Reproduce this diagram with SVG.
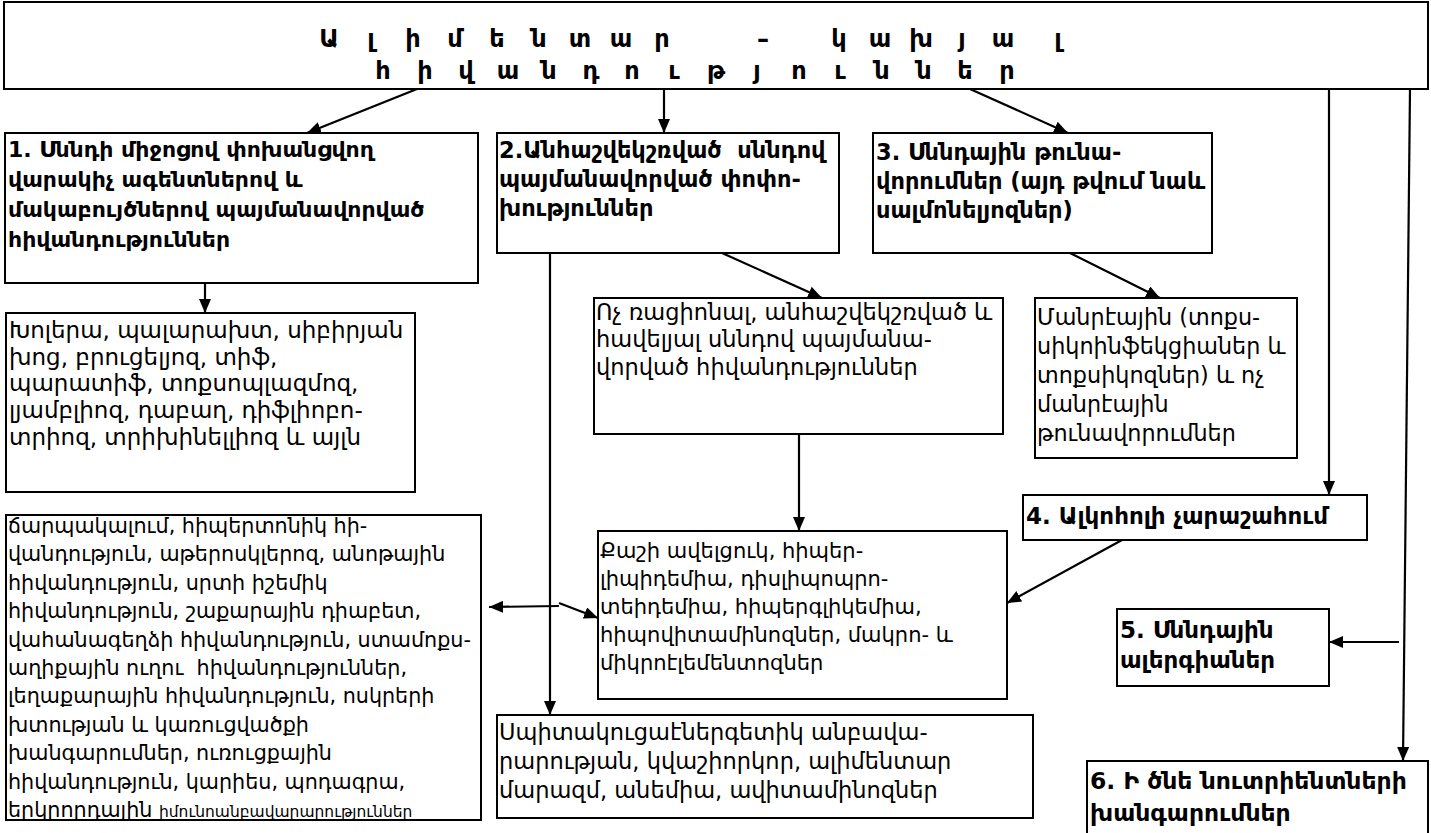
<svg xmlns="http://www.w3.org/2000/svg" width="1431" height="833" viewBox="0 0 1431 833">
<style>
.bx{fill:#fff;stroke:#000;stroke-width:2}
.t{font-family:"DejaVu Sans","Noto Sans",sans-serif;font-size:22.5px;fill:#000;white-space:pre}
.b{font-weight:bold;font-size:23px}
.s21{font-size:21px}
.ttl{font-family:"DejaVu Sans","Noto Sans",sans-serif;font-size:24px;font-weight:bold;fill:#000;text-anchor:middle}
.cn{stroke:#000;stroke-width:2.2;fill:none;marker-end:url(#ah)}
</style>
<defs>
<marker id="ah" viewBox="0 0 14 12" refX="14" refY="6" markerWidth="14" markerHeight="12" markerUnits="userSpaceOnUse" orient="auto">
<path d="M0,0 L14,6 L0,12 Z" fill="#000"/>
</marker>
</defs>
<rect width="1431" height="833" fill="#fff"/>
<g id="title">
<rect class="bx" x="4" y="2" width="1424" height="87"/>
<text class="ttl" y="47" x="329 350 371 392 413 434 455 476 497 518 539 559 580 600 621 641 662 712 763 801 839 860 880 900 921 941 962 982 1003 1030 1058">Ա լ ի մ ե ն տ ա ր – կ ա խ յ ա լ</text>
<text class="ttl" y="79" x="383 404 425 445 466 487 508 528 549 570 591 611 632 653 674 695 716 737 757 778 799 820 840 861 882 903 924 944 965 986 1007">հ ի վ ա ն դ ո ւ թ յ ո ւ ն ն ե ր</text>
</g>
<g id="connectors">
<line class="cn" x1="417" y1="89" x2="307" y2="133"/>
<line class="cn" x1="664" y1="89" x2="664" y2="133"/>
<line class="cn" x1="970" y1="89" x2="1068" y2="133"/>
<line class="cn" x1="1329" y1="89" x2="1329" y2="495"/>
<line class="cn" x1="1410" y1="89" x2="1403" y2="761"/>
<line class="cn" x1="205" y1="283" x2="205" y2="313"/>
<line class="cn" x1="722" y1="253" x2="822" y2="298"/>
<line class="cn" x1="550" y1="253" x2="550" y2="715"/>
<line class="cn" x1="1070" y1="253" x2="1160" y2="298"/>
<line class="cn" x1="799" y1="434" x2="799" y2="531"/>
<line class="cn" x1="1122" y1="540" x2="1007" y2="603"/>
<line class="cn" x1="1399" y1="642" x2="1329" y2="642"/>
<line class="cn" x1="559" y1="606" x2="489" y2="607"/>
<line class="cn" x1="559" y1="603" x2="598" y2="618"/>
</g>
<g id="n1">
<rect class="bx" x="5" y="133" width="473" height="150"/>
<text class="t b" style="font-size:22px"><tspan x="8" y="157">1. Սննդի միջոցով փոխանցվող</tspan><tspan x="8" y="187">վարակիչ ագենտներով և</tspan><tspan x="8" y="217">մակաբույծներով պայմանավորված</tspan><tspan x="8" y="247">հիվանդություններ</tspan></text>
</g>
<g id="n2">
<rect class="bx" x="497" y="133" width="342" height="120"/>
<text class="t b" style="font-size:22.5px"><tspan x="499" y="158">2.Անհաշվեկշռված  սննդով</tspan><tspan x="499" y="187">պայմանավորված փոփո-</tspan><tspan x="499" y="216">խություններ</tspan></text>
</g>
<g id="n3">
<rect class="bx" x="873" y="133" width="339" height="120"/>
<text class="t b" style="font-size:22.5px"><tspan x="876" y="160">3. Սննդային թունա-</tspan><tspan x="876" y="189">վորումներ (այդ թվում նաև</tspan><tspan x="876" y="218">սալմոնելյոզներ)</tspan></text>
</g>
<g id="n1a">
<rect class="bx" x="6" y="313" width="409" height="179"/>
<text class="t" style="font-size:23px"><tspan x="9" y="338">Խոլերա, պալարախտ, սիբիրյան</tspan><tspan x="9" y="365">խոց, բրուցելյոզ, տիֆ,</tspan><tspan x="9" y="391">պարատիֆ, տոքսոպլազմոզ,</tspan><tspan x="9" y="418">լյամբլիոզ, դաբաղ, դիֆլիոբո-</tspan><tspan x="9" y="445">տրիոզ, տրիխինելլիոզ և այլն</tspan></text>
</g>
<g id="n2a">
<rect class="bx" x="594" y="298" width="409" height="136"/>
<text class="t"><tspan x="596" y="320">Ոչ ռացիոնալ, անհաշվեկշռված և</tspan><tspan x="596" y="347">հավելյալ սննդով պայմանա-</tspan><tspan x="596" y="375">վորված հիվանդություններ</tspan></text>
</g>
<g id="n3a">
<rect class="bx" x="1035" y="298" width="262" height="160"/>
<text class="t" style="font-size:22.3px"><tspan x="1037" y="325">Մանրէային (տոքս-</tspan><tspan x="1037" y="354">սիկոինֆեկցիաներ և</tspan><tspan x="1037" y="383">տոքսիկոզներ) և ոչ</tspan><tspan x="1037" y="412">մանրէային</tspan><tspan x="1037" y="441">թունավորումներ</tspan></text>
</g>
<g id="n4">
<rect class="bx" x="1023" y="495" width="344" height="45"/>
<text class="t b" x="1026" y="524">4. Ալկոհոլի չարաշահում</text>
</g>
<g id="n5">
<rect class="bx" x="1117" y="609" width="212" height="77"/>
<text class="t b"><tspan x="1120" y="638">5. Սննդային</tspan><tspan x="1120" y="668">ալերգիաներ</tspan></text>
</g>
<g id="n6">
<rect class="bx" x="1087" y="761" width="341" height="80"/>
<text class="t b" style="font-size:23.5px"><tspan x="1090" y="789">6. Ի ծնե նուտրիենտների</tspan><tspan x="1090" y="821">խանգարումներ</tspan></text>
</g>
<g id="n2b">
<rect class="bx" x="598" y="531" width="409" height="168"/>
<text class="t s21"><tspan x="600" y="558">Քաշի ավելցուկ, հիպեր-</tspan><tspan x="600" y="586">լիպիդեմիա, դիսլիպոպրո-</tspan><tspan x="600" y="614">տեիդեմիա, հիպերգլիկեմիա,</tspan><tspan x="600" y="642">հիպովիտամինոզներ, մակրո- և</tspan><tspan x="600" y="670">միկրոէլեմենտոզներ</tspan></text>
</g>
<g id="n1b">
<rect class="bx" x="6" y="515" width="475" height="305"/>
<text class="t" style="font-size:20.7px"><tspan x="8" y="533">ճարպակալում, հիպերտոնիկ հի-</tspan><tspan x="8" y="561">վանդություն, աթերոսկլերոզ, անոթային</tspan><tspan x="8" y="590">հիվանդություն, սրտի իշեմիկ</tspan><tspan x="8" y="618">հիվանդություն, շաքարային դիաբետ,</tspan><tspan x="8" y="647">վահանագեղձի հիվանդություն, ստամոքս-</tspan><tspan x="8" y="675">աղիքային ուղու  հիվանդություններ,</tspan><tspan x="8" y="703">լեղաքարային հիվանդություն, ոսկրերի</tspan><tspan x="8" y="732">խտության և կառուցվածքի</tspan><tspan x="8" y="760">խանգարումներ, ուռուցքային</tspan><tspan x="8" y="789">հիվանդություն, կարիես, պոդագրա,</tspan><tspan x="8" y="817">երկրորդային <tspan style="font-size:15.5px">իմունոանբավարարություններ</tspan></tspan></text>
</g>
<g id="n2c">
<rect class="bx" x="497" y="715" width="536" height="103"/>
<text class="t"><tspan x="499" y="740">Սպիտակուցաէներգետիկ անբավա-</tspan><tspan x="499" y="769">րարության, կվաշիորկոր, ալիմենտար</tspan><tspan x="499" y="798">մարազմ, անեմիա, ավիտամինոզներ</tspan></text>
</g>
</svg>
